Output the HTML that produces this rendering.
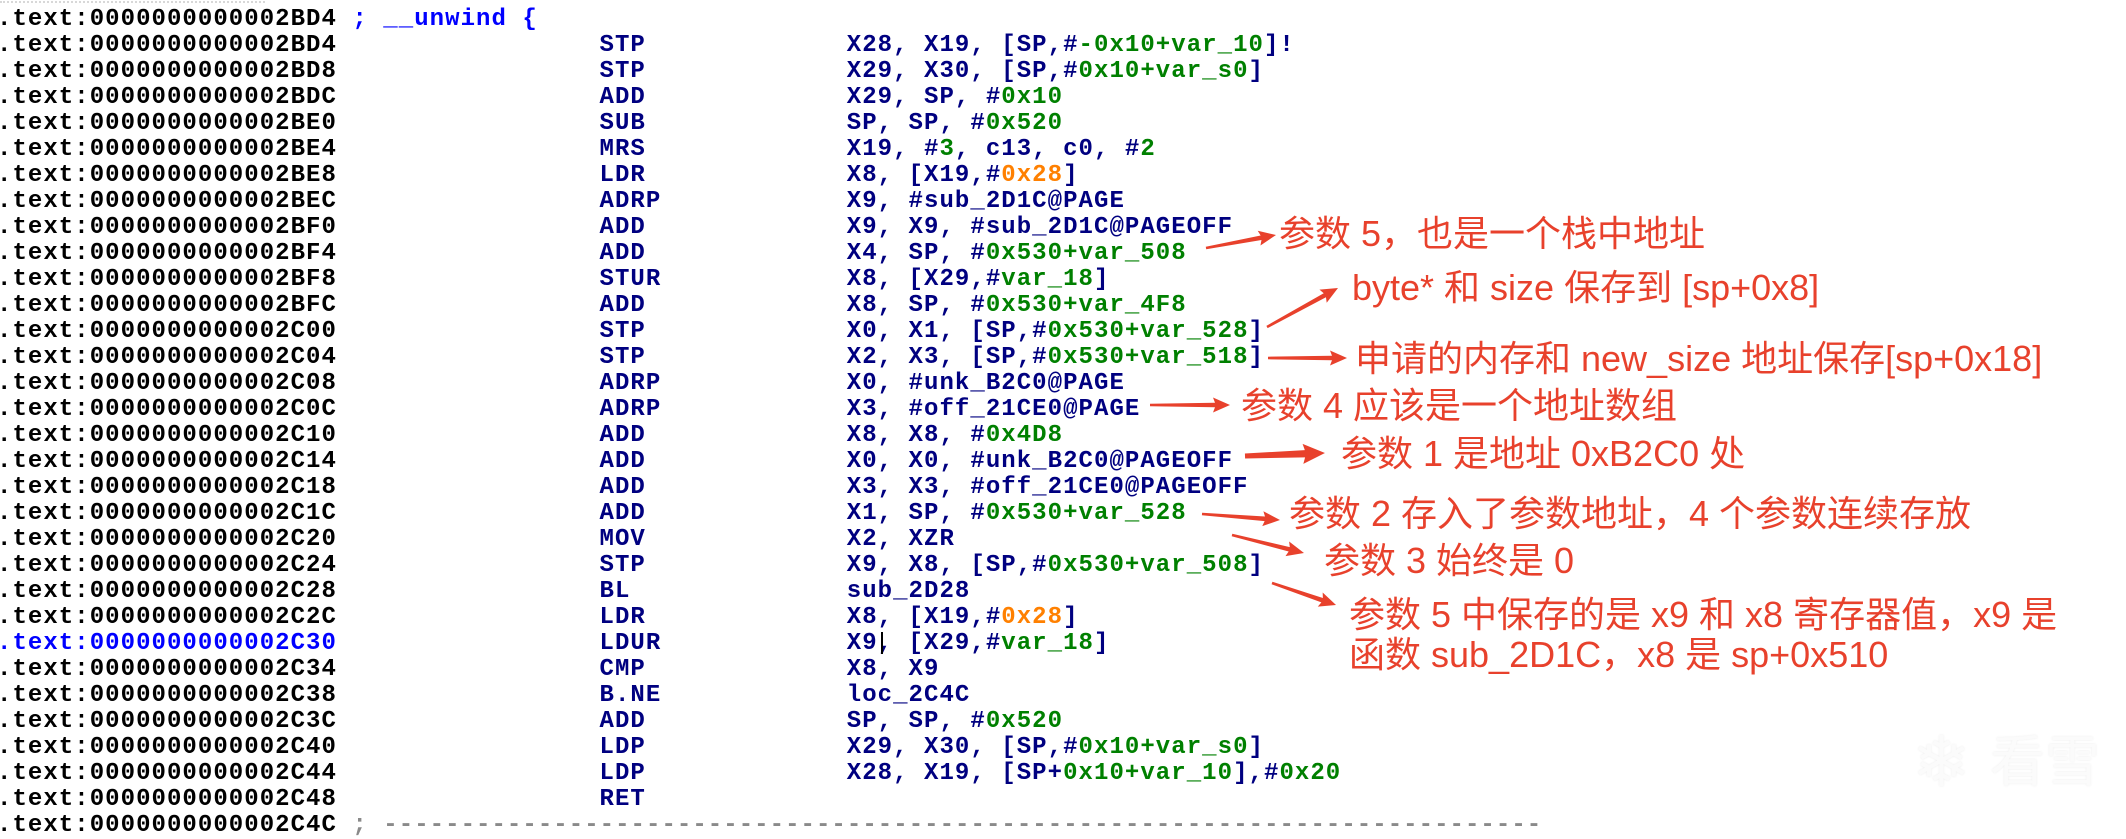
<!DOCTYPE html>
<html>
<head>
<meta charset="utf-8">
<style>
html,body{margin:0;padding:0;background:#fff;}
body{width:2126px;height:826px;overflow:hidden;position:relative;}
.col{position:absolute;white-space:pre;font-family:"Liberation Mono",monospace;font-weight:bold;font-size:24px;letter-spacing:1.05px;line-height:26px;margin:0;}
.addr{color:#000;}
.mn{color:#000080;}
.op{color:#000080;}
.g{color:#008000;}
.o{color:#ff8000;}
.b{color:#0000ff;}
.gr{color:#8a8a8a;}
.ann{position:absolute;white-space:pre;font-family:"Liberation Sans","Noto Sans CJK SC",sans-serif;font-size:36px;line-height:40px;color:#e8412c;}
.wm{position:absolute;font-family:"Liberation Sans","Noto Sans CJK SC",sans-serif;color:#fbfbfb;text-shadow:0 0 2px #ececec;}
</style>
</head>
<body>
<div style="position:absolute;left:0;top:1px;width:265px;border-top:2px dotted #d8d8d8;"></div>

<div class="col addr" style="left:-3px;top:6.5px;">.text:0000000000002BD4 <span class="b">; __unwind {</span>
.text:0000000000002BD4
.text:0000000000002BD8
.text:0000000000002BDC
.text:0000000000002BE0
.text:0000000000002BE4
.text:0000000000002BE8
.text:0000000000002BEC
.text:0000000000002BF0
.text:0000000000002BF4
.text:0000000000002BF8
.text:0000000000002BFC
.text:0000000000002C00
.text:0000000000002C04
.text:0000000000002C08
.text:0000000000002C0C
.text:0000000000002C10
.text:0000000000002C14
.text:0000000000002C18
.text:0000000000002C1C
.text:0000000000002C20
.text:0000000000002C24
.text:0000000000002C28
.text:0000000000002C2C
<span class="b">.text:0000000000002C30</span>
.text:0000000000002C34
.text:0000000000002C38
.text:0000000000002C3C
.text:0000000000002C40
.text:0000000000002C44
.text:0000000000002C48
.text:0000000000002C4C <span class="gr">; ---------------------------------------------------------------------------</span></div>

<div class="col mn" style="left:599.5px;top:6.5px;">
STP
STP
ADD
SUB
MRS
LDR
ADRP
ADD
ADD
STUR
ADD
STP
STP
ADRP
ADRP
ADD
ADD
ADD
ADD
MOV
STP
BL
LDR
LDUR
CMP
B.NE
ADD
LDP
LDP
RET</div>

<div class="col op" style="left:846.75px;top:6.5px;">
X28, X19, [SP,#<span class="g">-0x10+var_10</span>]!
X29, X30, [SP,#<span class="g">0x10+var_s0</span>]
X29, SP, #<span class="g">0x10</span>
SP, SP, #<span class="g">0x520</span>
X19, #<span class="g">3</span>, c13, c0, #<span class="g">2</span>
X8, [X19,#<span class="o">0x28</span>]
X9, #sub_2D1C@PAGE
X9, X9, #sub_2D1C@PAGEOFF
X4, SP, #<span class="g">0x530+var_508</span>
X8, [X29,#<span class="g">var_18</span>]
X8, SP, #<span class="g">0x530+var_4F8</span>
X0, X1, [SP,#<span class="g">0x530+var_528</span>]
X2, X3, [SP,#<span class="g">0x530+var_518</span>]
X0, #unk_B2C0@PAGE
X3, #off_21CE0@PAGE
X8, X8, #<span class="g">0x4D8</span>
X0, X0, #unk_B2C0@PAGEOFF
X3, X3, #off_21CE0@PAGEOFF
X1, SP, #<span class="g">0x530+var_528</span>
X2, XZR
X9, X8, [SP,#<span class="g">0x530+var_508</span>]
sub_2D28
X8, [X19,#<span class="o">0x28</span>]
X9, [X29,#<span class="g">var_18</span>]
X8, X9
loc_2C4C
SP, SP, #<span class="g">0x520</span>
X29, X30, [SP,#<span class="g">0x10+var_s0</span>]
X28, X19, [SP+<span class="g">0x10+var_10</span>],#<span class="g">0x20</span>
</div>

<!-- cursor -->
<div style="position:absolute;left:881px;top:632px;width:2px;height:22px;background:#000;"></div>

<!-- arrows -->
<svg width="2126" height="826" style="position:absolute;left:0;top:0;" xmlns="http://www.w3.org/2000/svg">
<g fill="#e8412c">
  <g transform="translate(1206,248) rotate(-10.52)"><polygon points="0,-1.3 56,-2.3 54,-7.5 71.2,0 54,7.5 56,2.3 0,1.3"/></g>
  <g transform="translate(1267,327) rotate(-28.78)"><polygon points="0,-1.3 66,-2.3 64,-7.5 81,0 64,7.5 66,2.3 0,1.3"/></g>
  <g transform="translate(1268,358) rotate(0)"><polygon points="0,-1.3 64,-2.3 62,-7.5 79,0 62,7.5 64,2.3 0,1.3"/></g>
  <g transform="translate(1150,405) rotate(0)"><polygon points="0,-1.3 65,-2.3 63,-7.5 80,0 63,7.5 65,2.3 0,1.3"/></g>
  <g transform="translate(1245,456) rotate(-2.15)"><polygon points="0,-2.5 60,-3.6 58,-10 80,0 58,10 60,3.6 0,2.5"/></g>
  <g transform="translate(1202,514) rotate(4.4)"><polygon points="0,-1.3 63,-2.3 61,-7.5 78.2,0 61,7.5 63,2.3 0,1.3"/></g>
  <g transform="translate(1232,535) rotate(14.04)"><polygon points="0,-1.3 59,-2.3 57,-7.5 74.2,0 57,7.5 59,2.3 0,1.3"/></g>
  <g transform="translate(1272,583) rotate(18.97)"><polygon points="0,-1.3 53,-2.3 51,-7.5 67.7,0 51,7.5 53,2.3 0,1.3"/></g>
</g>
</svg>

<!-- annotations -->
<div class="ann" style="left:1279px;top:214px;">参数 5，也是一个栈中地址</div>
<div class="ann" style="left:1352px;top:268px;">byte* 和 size 保存到 [sp+0x8]</div>
<div class="ann" style="left:1355px;top:339px;">申请的内存和 new_size 地址保存[sp+0x18]</div>
<div class="ann" style="left:1241px;top:386px;">参数 4 应该是一个地址数组</div>
<div class="ann" style="left:1341px;top:434px;">参数 1 是地址 0xB2C0 处</div>
<div class="ann" style="left:1289px;top:494px;">参数 2 存入了参数地址，4 个参数连续存放</div>
<div class="ann" style="left:1324px;top:541px;">参数 3 始终是 0</div>
<div class="ann" style="left:1349px;top:595px;">参数 5 中保存的是 x9 和 x8 寄存器值，x9 是</div>
<div class="ann" style="left:1349px;top:635px;">函数 sub_2D1C，x8 是 sp+0x510</div>

<!-- watermark -->
<div class="wm" style="left:1912px;top:722px;font-family:'DejaVu Sans',sans-serif;font-size:70px;line-height:80px;">❄</div>
<div class="wm" style="left:1990px;top:730px;font-size:55px;line-height:64px;">看雪</div>
</body>
</html>
